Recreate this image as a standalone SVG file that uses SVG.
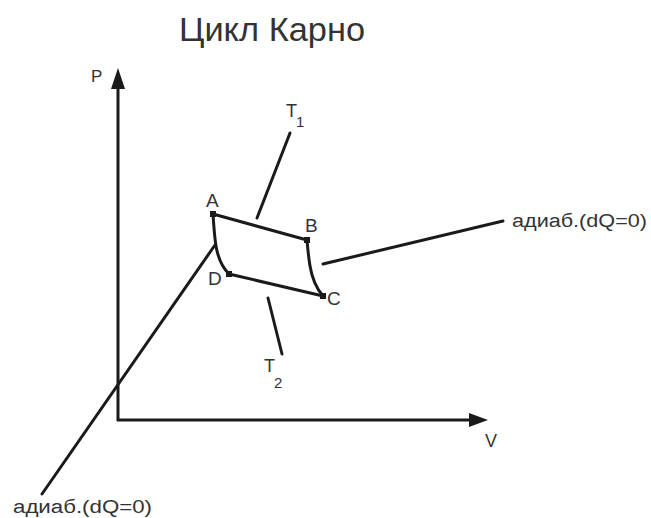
<svg xmlns="http://www.w3.org/2000/svg" width="651" height="518" viewBox="0 0 651 518">
<style>
.ln{stroke:#1a1a1a;stroke-width:3;fill:none;stroke-linecap:round}
.ax{stroke:#1a1a1a;stroke-width:3;fill:none}
.t{font-family:"Liberation Sans",Arial,sans-serif;fill:#333}
.lbl{font-size:19px}
.pt{fill:#1a1a1a}
</style>
<rect width="651" height="518" fill="#fff"/>
<text class="t" x="179" y="41" font-size="33" textLength="186" lengthAdjust="spacingAndGlyphs">Цикл Карно</text>
<g id="axes">
<line class="ax" x1="118" y1="421" x2="118" y2="84"/>
<polygon class="pt" points="118,68 111,89 125,89"/>
<line class="ax" x1="117" y1="420" x2="472" y2="420"/>
<polygon class="pt" points="488,420 469,413 469,427"/>
<text class="t" x="91" y="82" font-size="17">P</text>
<text class="t" x="485" y="447" font-size="18">V</text>
</g>
<g id="connectors">
<line class="ln" x1="42" y1="494" x2="215" y2="245"/>
<line class="ln" x1="323" y1="264" x2="503" y2="221"/>
<line class="ln" x1="257" y1="218" x2="290" y2="133"/>
<line class="ln" x1="268" y1="298" x2="282" y2="354"/>
</g>
<g id="cycle">
<line class="ln" x1="213" y1="214" x2="307" y2="240"/>
<line class="ln" x1="229" y1="274" x2="323" y2="296"/>
<path class="ln" d="M213,214 C214,230 215,240 216,246 C218,258 222,267 229,274"/>
<path class="ln" d="M307,240 C308,252 309,260 310,266 C312,278 316,288 323,296"/>
</g>
<g id="A"><rect class="pt" x="210" y="211" width="6" height="6"/><text class="t lbl" x="206" y="207">A</text></g>
<g id="B"><rect class="pt" x="304" y="237" width="6" height="6"/><text class="t lbl" x="305" y="232">B</text></g>
<g id="C"><rect class="pt" x="320" y="293" width="6" height="6"/><text class="t lbl" x="327" y="305">C</text></g>
<g id="D"><rect class="pt" x="226" y="271" width="6" height="6"/><text class="t lbl" x="208" y="285">D</text></g>
<g id="T1"><text class="t" font-size="18"><tspan x="286" y="117">T</tspan><tspan x="296" y="127" font-size="15">1</tspan></text></g>
<g id="T2"><text class="t" font-size="18"><tspan x="264" y="372">T</tspan><tspan x="274" y="388" font-size="15">2</tspan></text></g>
<g id="adiab1"><text class="t" x="13" y="513" font-size="18" textLength="139" lengthAdjust="spacingAndGlyphs">адиаб.(dQ=0)</text></g>
<g id="adiab2"><text class="t" x="512" y="227" font-size="18" textLength="135" lengthAdjust="spacingAndGlyphs">адиаб.(dQ=0)</text></g>
</svg>
